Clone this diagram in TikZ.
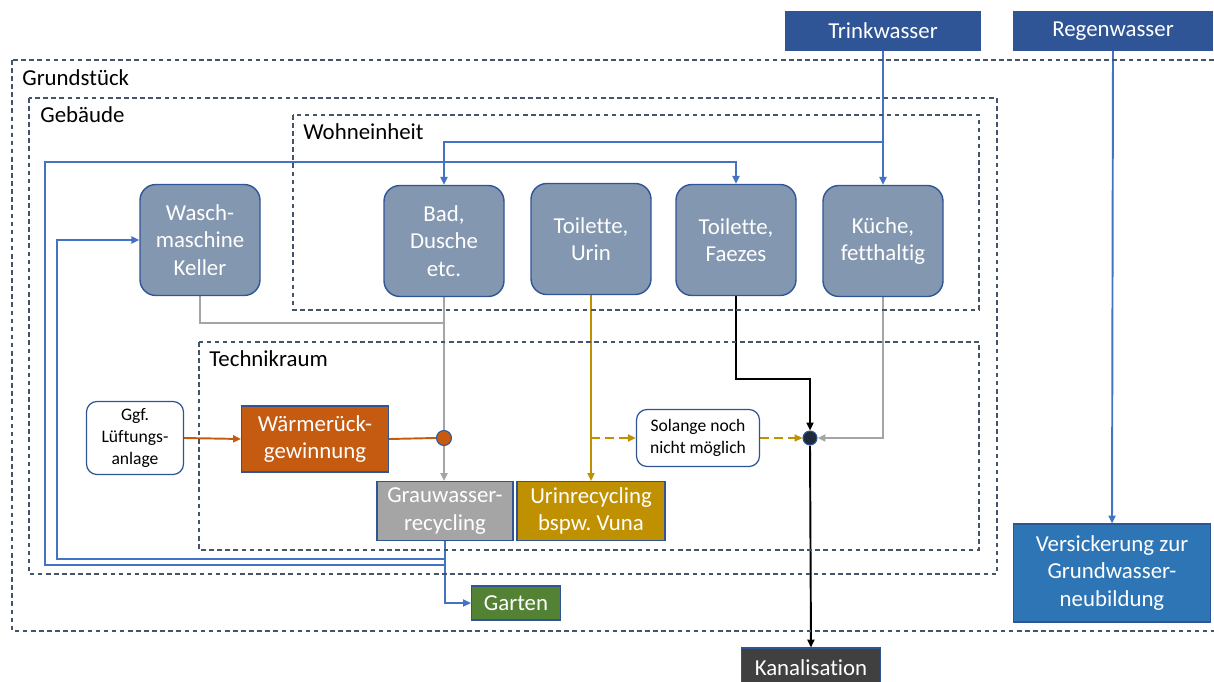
\documentclass[tikz,border=0pt]{standalone}
\usepackage{fontspec}
\setmainfont{Carlito}[Ligatures=NoCommon]
\usetikzlibrary{arrows.meta,backgrounds}
\definecolor{frame}{HTML}{44546A}
\definecolor{pipe}{HTML}{4472C4}
\definecolor{unit}{HTML}{8497B0}
\definecolor{unitline}{HTML}{2F5597}
\definecolor{heat}{HTML}{C55A11}
\definecolor{greywater}{HTML}{A5A5A5}
\definecolor{urine}{HTML}{BF9000}
\definecolor{garden}{HTML}{548235}
\definecolor{sewer}{HTML}{404040}
\definecolor{infil}{HTML}{2E75B6}
\definecolor{node}{HTML}{1F2A3A}
\newdimen\pu \pu=0.02cm
\frenchspacing
\tikzset{
  area/.style={draw=frame, dash pattern=on 2.6pt off 2pt, line width=0.8pt},
  arealabel/.style={anchor=north west, inner sep=0pt, font=\fontsize{13}{15}\selectfont},
  unitbox/.style={draw=unitline, fill=unit, line width=0.8pt, rounded corners=9pt,
    text=white, align=center, minimum width=120\pu, minimum height=111\pu,
    font=\fontsize{13}{15.5}\selectfont},
  solidbox/.style={draw=unitline, line width=0.6pt, text=white, align=center,
    inner sep=0pt, font=\fontsize{13}{15.5}\selectfont},
  notebox/.style={draw=unitline, fill=white, line width=0.7pt, rounded corners=6pt,
    align=center, inner sep=0pt, font=\fontsize{10}{12.3}\selectfont},
  joint/.style={circle, draw=unitline, line width=0.6pt, inner sep=0pt, minimum size=15\pu},
  tip/.style={-{Triangle[length=4.5pt,width=4pt]}},
  pipeline/.style={draw=pipe, line width=1.1pt},
  greyline/.style={draw=greywater, line width=1.2pt},
  heatline/.style={draw=heat, line width=1.1pt},
  urineline/.style={draw=urine, line width=1.1pt},
  sewerline/.style={draw=black, line width=1.1pt}
}
\begin{document}
\begin{tikzpicture}[x=0.02cm, y=-0.02cm]
\useasboundingbox (0,0) rectangle (1214,682);

% areas
\draw[area] (12,60) rectangle (1230,631);
\draw[area] (29,98) rectangle (997,574);
\draw[area] (293,115) rectangle (979,310);
\draw[area] (199,342) rectangle (979,550);
\node[arealabel] (grundlbl) at (22,69) {Grundstück};
\node[arealabel] (gebaeudelbl) at (40,106) {Gebäude};
\node[arealabel] (wohnlbl) at (303,123) {Wohneinheit};
\node[arealabel] (techniklbl) at (209,350) {Technikraum};

% sources
\node[solidbox, fill=unitline, minimum width=194\pu, minimum height=38\pu] (trink) at (883,31) {Trinkwasser};
\node[solidbox, fill=unitline, minimum width=198\pu, minimum height=38\pu] (regen) at (1113,31) {Regenwasser};

% consumers
\node[unitbox] (wasch) at (200,240) {Wasch-\\maschine\\Keller};
\node[unitbox] (bad) at (444,241) {Bad,\\Dusche\\etc.};
\node[unitbox] (urin) at (591,239) {Toilette,\\Urin};
\node[unitbox] (faezes) at (736,240) {Toilette,\\Faezes};
\node[unitbox] (kueche) at (883,241) {Küche,\\fetthaltig};

% technik
\node[notebox, minimum width=97\pu, minimum height=73\pu] (lueft) at (135,438) {Ggf.\\Lüftungs-\\anlage};
\node[solidbox, fill=heat, minimum width=147\pu, minimum height=66\pu] (waerme) at (315,439) {Wärmerück-\\gewinnung};
\node[joint, fill=heat] (hx) at (444,438) {};
\node[solidbox, fill=greywater, minimum width=136\pu, minimum height=59\pu] (grau) at (445,511) {Grauwasser-\\recycling};
\node[solidbox, fill=urine, minimum width=148\pu, minimum height=59\pu] (urinrec) at (591,511) {Urinrecycling\\bspw. Vuna};
\node[notebox, minimum width=123\pu, minimum height=57\pu] (solange) at (698,438) {Solange noch\\nicht möglich};
\node[joint, fill=node, minimum size=14\pu] (sj) at (810,438) {};

% sinks
\node[solidbox, fill=garden, minimum width=89\pu, minimum height=34\pu] (garten) at (516,603) {Garten};
\node[solidbox, fill=sewer, minimum width=139\pu, minimum height=40\pu] (kanal) at (811,668) {Kanalisation};
\node[solidbox, fill=infil, minimum width=197\pu, minimum height=98\pu] (versick) at (1112,573) {Versickerung zur\\Grundwasser-\\neubildung};

\coordinate (tjoin) at (883,142);
\coordinate (gj) at (444,323);
\coordinate (g1) at (444,559);
\coordinate (g2) at (444,565);

\begin{pgfonlayer}{background}
% drinking water
\draw[pipeline, tip] (trink.south) -- (kueche.north);
\draw[pipeline, tip] (tjoin) -| (bad.north);
% grey water reuse
\draw[pipeline, tip] (grau.south) |- (garten.west);
\draw[pipeline, tip] (g1) -| (57,300) |- (wasch.west);
\draw[pipeline, tip] (g2) -| (45,162) -| (faezes.north);
% rain water
\draw[pipeline, tip] (regen.south) -- (versick.north);

% grey water
\draw[greyline] (wasch.south) |- (gj);
\draw[greyline, tip] (bad.south) -- (bad.south |- grau.north);
\draw[greyline, tip] (kueche.south) |- (sj.east);

% heat
\draw[heatline, tip] (lueft.east) -- (waerme.west);
\draw[heatline] (waerme.east) -- (hx.west);

% urine
\draw[urineline, tip] (urin.south) -- (urinrec.north);
\draw[urineline, tip, dash pattern=on 5pt off 3pt] (urin.south |- solange.west) -- (solange.west);
\draw[urineline, tip, dash pattern=on 5pt off 3pt] (solange.east) -- (sj.west);

% black water
\draw[sewerline, tip] (faezes.south) -- ++(0,83) -| (sj.north);
\draw[sewerline, tip] (sj.south) -- (kanal.north);
\end{pgfonlayer}
\end{tikzpicture}
\end{document}
